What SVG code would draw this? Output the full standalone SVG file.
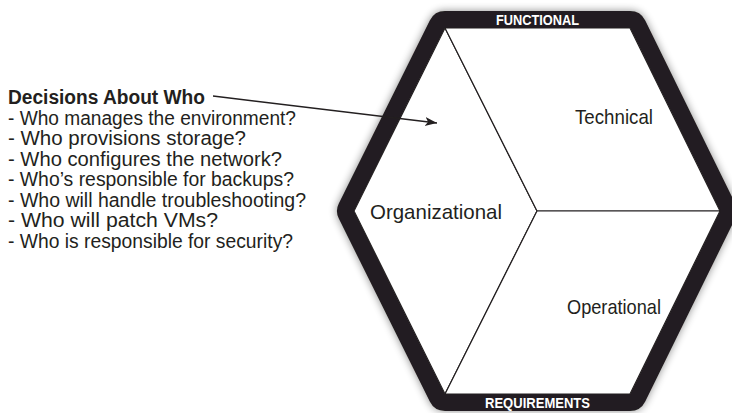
<svg xmlns="http://www.w3.org/2000/svg" width="732" height="413" viewBox="0 0 732 413">
  <style>
    .txt { font-family: "Liberation Sans", Arial, sans-serif; fill: #231f20; }
    .list { font-size: 20px; }
    .head { font-size: 20px; font-weight: bold; }
    .lbl { font-size: 21px; text-anchor: middle; }
    .band { font-family: "Liberation Sans", Arial, sans-serif; font-size: 15.5px; font-weight: bold; fill: #ffffff; text-anchor: middle; }
    .region { fill: #ffffff; stroke: #231f20; stroke-width: 1.2; stroke-linejoin: round; }
    .conn { fill: none; stroke: #231f20; stroke-width: 1.4; }
  </style>
  <defs>
    <filter id="shadow" x="-10%" y="-10%" width="120%" height="120%">
      <feGaussianBlur in="SourceAlpha" stdDeviation="4.5"/>
      <feComponentTransfer><feFuncA type="linear" slope="0.45"/></feComponentTransfer>
      <feMerge><feMergeNode/><feMergeNode in="SourceGraphic"/></feMerge>
    </filter>
    <marker id="arrow" markerUnits="userSpaceOnUse" markerWidth="14" markerHeight="10" refX="12" refY="4.5" orient="auto">
      <path d="M0,0 L12,4.5 L0,9 L3,4.5 Z" fill="#231f20"/>
    </marker>
  </defs>

  <rect width="732" height="413" fill="#ffffff"/>

  <!-- hexagon frame -->
  <g id="frame">
    <polygon points="354,211 445,28 630,28 720,211 630,394 445,394" fill="#231f20" stroke="#231f20" stroke-width="34" stroke-linejoin="round" filter="url(#shadow)"/>
    <polygon points="354,211 445,28 630,28 720,211 630,394 445,394" fill="#ffffff"/>
    <text class="band" x="537.5" y="25" textLength="83" lengthAdjust="spacingAndGlyphs">FUNCTIONAL</text>
    <text class="band" x="537.5" y="408" textLength="105" lengthAdjust="spacingAndGlyphs">REQUIREMENTS</text>
  </g>

  <g id="organizational">
    <polygon class="region" points="354,211 445,28 537,211 445,394"/>
    <text class="txt lbl" x="436" y="219" textLength="132" lengthAdjust="spacingAndGlyphs">Organizational</text>
  </g>
  <g id="technical">
    <polygon class="region" points="445,28 630,28 720,211 537,211"/>
    <text class="txt lbl" x="614" y="124" textLength="78" lengthAdjust="spacingAndGlyphs">Technical</text>
  </g>
  <g id="operational">
    <polygon class="region" points="537,211 720,211 630,394 445,394"/>
    <text class="txt lbl" x="614" y="314" textLength="94" lengthAdjust="spacingAndGlyphs">Operational</text>
  </g>

  <g id="decisions">
    <text class="txt head" x="8" y="104" textLength="197" lengthAdjust="spacingAndGlyphs">Decisions About Who</text>
    <text class="txt list" x="8" y="124.5" textLength="288" lengthAdjust="spacingAndGlyphs">- Who manages the environment?</text>
    <text class="txt list" x="8" y="145" textLength="238" lengthAdjust="spacingAndGlyphs">- Who provisions storage?</text>
    <text class="txt list" x="8" y="165.5" textLength="274" lengthAdjust="spacingAndGlyphs">- Who configures the network?</text>
    <text class="txt list" x="8" y="186" textLength="286" lengthAdjust="spacingAndGlyphs">- Who’s responsible for backups?</text>
    <text class="txt list" x="8" y="206.5" textLength="298" lengthAdjust="spacingAndGlyphs">- Who will handle troubleshooting?</text>
    <text class="txt list" x="8" y="227" textLength="210" lengthAdjust="spacingAndGlyphs">- Who will patch VMs?</text>
    <text class="txt list" x="8" y="247.5" textLength="285" lengthAdjust="spacingAndGlyphs">- Who is responsible for security?</text>
  </g>

  <g id="connectors">
    <line class="conn" x1="213" y1="96" x2="437" y2="123" marker-end="url(#arrow)"/>
  </g>
</svg>
